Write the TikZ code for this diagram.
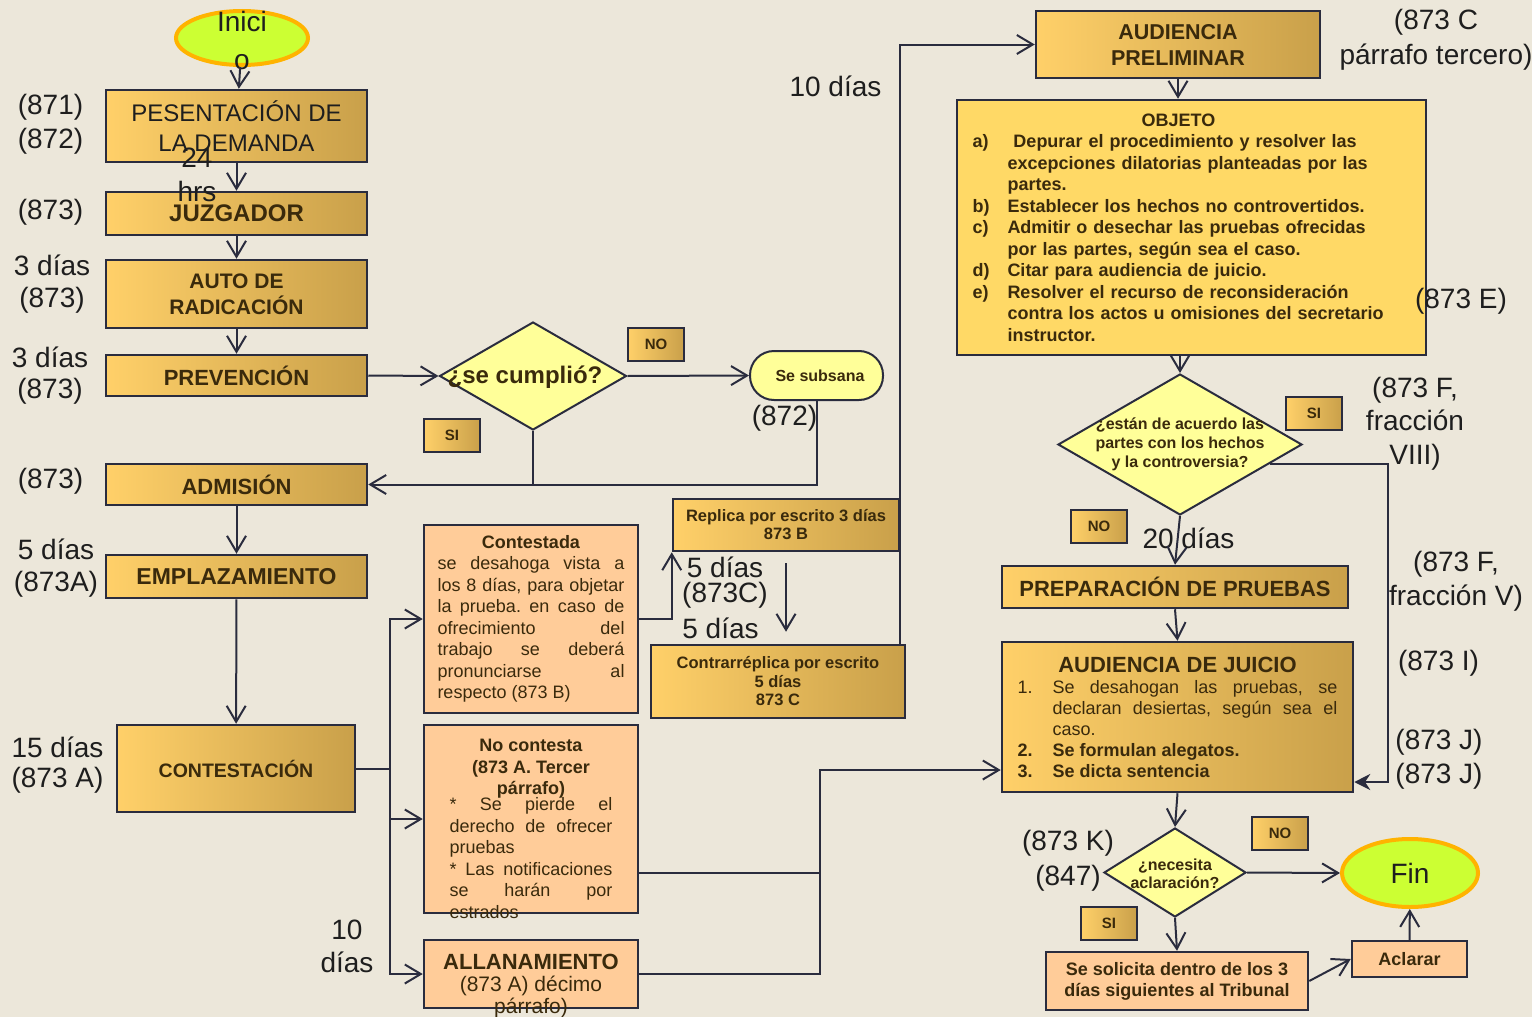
\documentclass[tikz,border=0pt]{standalone}
\usepackage{fontspec}
\setmainfont{Liberation Sans}
\usetikzlibrary{shapes.geometric,arrows.meta,positioning}
\definecolor{bg}{HTML}{ECE7DA}
\definecolor{ln}{HTML}{2A2C3E}
\definecolor{ink}{HTML}{1E1E1E}
\definecolor{brn}{HTML}{3A2A0C}
\definecolor{goldL}{HTML}{FFD069}
\definecolor{goldR}{HTML}{C9A04A}
\definecolor{peach}{HTML}{FFCC99}
\definecolor{pale}{HTML}{FFFF99}
\definecolor{objfill}{HTML}{FFD966}
\definecolor{limefill}{HTML}{CCFF33}
\definecolor{rimcol}{HTML}{FFB300}
\newcommand{\fs}[2]{\fontsize{#1}{#2}\selectfont}
\newcommand{\nosize}[1]{\makebox[0pt]{\raisebox{-.3em}[0pt][0pt]{#1}}}
\newcommand{\ovr}[3]{\raisebox{#1}[0pt][0pt]{\parbox[t]{#2}{#3}}}
\newcommand{\itm}[2]{\par\hangindent=35pt\hangafter=1\noindent\makebox[35pt][l]{#1}#2}
\begin{document}
\frenchspacing
\hyphenpenalty=10000
\exhyphenpenalty=10000
\begin{tikzpicture}
    [x=1pt, y=-1pt, line width=2pt, color=ln,
     >={Straight Barb[length=16pt,width=19pt]},
     gold/.style ={draw=ln, line width=2.5pt, left color=goldL, right color=goldR, text=brn, inner sep=0pt, align=center, font=\bfseries},
     peachbox/.style ={draw=ln, line width=2.5pt, fill=peach, text=brn, inner sep=0pt},
     dec/.style ={diamond, draw=ln, fill=pale, inner sep=0pt, text=brn},
     term/.style ={ellipse, draw=rimcol, line width=4pt, fill=limefill, text=ink, inner sep=0pt},
     tag/.style ={gold, line width=2pt, minimum width=56pt, minimum height=33pt, font=\bfseries\fs{15}{16}},
     lbl/.style ={text=ink, inner sep=0pt, align=center, font=\fs{28}{33}}]
    \useasboundingbox (0,0) rectangle (1532,1017);
    \fill[bg] (0,0) rectangle (1532,1017);
    \node[term, minimum width=132pt, minimum height=54pt, font=\fs{28}{38}] (inicio) at (242,38) {\nosize{\raisebox{-3pt}{\begin{tabular}{@{}c@{}}Inici\\o\end{tabular}}}};
    \node[gold, minimum width=261pt, minimum height=72pt, font=\mdseries\fs{24}{30}, text=ink] (pres) at (236.5,126) {PESENTACIÓN DE\\LA DEMANDA};
    \node[gold, minimum width=261pt, minimum height=43pt, font=\bfseries\fs{24}{26}] (juz) at (236.5,213.5) {JUZGADOR};
    \node[gold, minimum width=261pt, minimum height=68pt, font=\bfseries\fs{21}{26}] (auto) at (236.5,294) {AUTO DE\\RADICACIÓN};
    \node[gold, minimum width=261pt, minimum height=41pt, font=\bfseries\fs{22}{24}] (prev) at (236.5,375.5) {PREVENCIÓN};
    \node[gold, minimum width=261pt, minimum height=41pt, font=\bfseries\fs{22}{24}] (adm) at (236.5,484.5) {ADMISIÓN};
    \node[gold, minimum width=261pt, minimum height=43pt, font=\bfseries\fs{23}{25}] (empl) at (236.5,576.5) {EMPLAZAMIENTO};
    \node[gold, minimum width=238pt, minimum height=87pt, font=\bfseries\fs{19.5}{22}] (cont) at (236,768.5) {CONTESTACIÓN};
    \node[dec, minimum width=187pt, minimum height=108pt, font=\bfseries\fs{24}{26}] (dec1) at (533,376) {\nosize{\hspace*{-16pt}¿se cumplió?}};
    \node[draw=ln, fill=pale, rounded corners=24pt, minimum width=133pt, minimum height=49pt, text=brn, font=\bfseries\fs{16}{18}] (subsana) at (816.5,375.5) {\raisebox{-5pt}{\hspace*{7pt}Se subsana}};
    \node[peachbox, minimum width=214pt, minimum height=188pt, text width=187pt, align=justify, font=\fs{18}{21.5}] (contestada) at (531,619) {{\centering\bfseries Contestada\par}se desahoga vista a\linebreak los 8 días, para objetar\linebreak la prueba. en caso de\linebreak ofrecimiento del\linebreak trabajo se deberá\linebreak pronunciarse al\linebreak respecto (873 B)};
    \node[peachbox, minimum width=214pt, minimum height=188pt, font=\fs{18}{21.5}] (nocont) at (531,819) {\ovr{67.5pt}{163pt}{{\centering\bfseries No contesta\\(873 A. Tercer\\párrafo)\par}\vspace{-5.5pt}* Se pierde el\linebreak derecho de ofrecer\linebreak pruebas\par * Las notificaciones\linebreak se harán por\linebreak estrados}};
    \node[peachbox, minimum width=214pt, minimum height=68pt, font=\fs{21}{22}] (allan) at (531,974) {\ovr{5pt}{214pt}{\centering{\bfseries\fs{22}{22}ALLANAMIENTO\par}(873 A) décimo\\párrafo)}};
    \node[gold, minimum width=226pt, minimum height=52pt, font=\bfseries\fs{16.5}{18}] (replica) at (786,525) {Replica por escrito 3 días\\873 B};
    \node[gold, minimum width=254pt, minimum height=73pt, font=\bfseries\fs{16.5}{18.5}] (contra) at (778,681.5) {Contrarréplica por escrito\\5 días\\873 C};
    \node[gold, minimum width=284pt, minimum height=67pt, font=\bfseries\fs{21.5}{26}] (audprel) at (1178,44.5) {AUDIENCIA\\PRELIMINAR};
    \node[draw=ln, line width=2.5pt, fill=objfill, text=brn, inner sep=0pt, minimum width=469pt, minimum height=255pt, text width=438pt, align=left, font=\bfseries\fs{18}{21.5}] (objeto) at (1191.5,227.5) {\noindent\makebox[412pt]{OBJETO}\itm{a)}{ Depurar el procedimiento y resolver las\newline excepciones dilatorias planteadas por las\newline partes.}\itm{b)}{Establecer los hechos no controvertidos.}\itm{c)}{Admitir o desechar las pruebas ofrecidas\newline por las partes, según sea el caso.}\itm{d)}{Citar para audiencia de juicio.}\itm{e)}{Resolver el recurso de reconsideración\newline contra los actos u omisiones del secretario\newline instructor.}\par};
    \node[dec, minimum width=244pt, minimum height=141pt, font=\bfseries\fs{16}{19}] (dec2) at (1180,444.5) {\nosize{\begin{tabular}{@{}c@{}}¿están de acuerdo las\\partes con los hechos\\y la controversia?\end{tabular}}};
    \node[gold, minimum width=346pt, minimum height=42pt, font=\bfseries\fs{22}{24}] (prep) at (1175,587) {PREPARACIÓN DE PRUEBAS};
    \node[gold, minimum width=351pt, minimum height=150pt, text width=320pt, align=justify, font=\fs{18}{22.5}] (juicio) at (1177.5,717) {{\centering\bfseries\fs{22}{23}AUDIENCIA DE JUICIO\par}\itm{1.}{Se desahogan las pruebas, se declaran desiertas, según sea el caso.}\fs{18}{21}\itm{\textbf{2.}}{\textbf{Se formulan alegatos.}}\itm{\textbf{3.}}{\textbf{Se dicta sentencia}}\par};
    \node[dec, minimum width=142pt, minimum height=89pt, font=\bfseries\fs{16}{18}] (dec3) at (1175,872.5) {\nosize{\raisebox{-3pt}{\begin{tabular}{@{}c@{}}¿necesita\\aclaración?\end{tabular}}}};
    \node[term, minimum width=136pt, minimum height=68pt, font=\fs{28}{30}] (fin) at (1410,873) {Fin};
    \node[peachbox, minimum width=262pt, minimum height=58pt, align=center, font=\bfseries\fs{18}{21}] (solicita) at (1177,981) {Se solicita dentro de los 3\\días siguientes al Tribunal};
    \node[peachbox, minimum width=115pt, minimum height=36pt, font=\bfseries\fs{18}{20}] (aclarar) at (1409.5,959) {Aclarar};
    \node[tag] (no1) at (656,344) {NO};
    \node[tag] (si1) at (452,435) {SI};
    \node[tag] (si2) at (1314,413) {SI};
    \node[tag] (no2) at (1099,526) {NO};
    \node[tag] (no3) at (1280,833) {NO};
    \node[tag] (si3) at (1109,923) {SI};
    \node[lbl, font=\fs{28}{34}] (l871) at (50.5,124) {(871)\\(872)};
    \node[lbl] (l873a) at (50.5,212) {(873)};
    \node[lbl, font=\fs{28}{32}] (l873b) at (52,284) {3 días\\(873)};
    \node[lbl, font=\fs{28}{31}] (l873c) at (50,375.5) {3 días\\(873)};
    \node[lbl] (l873d) at (50.5,481) {(873)};
    \node[lbl, font=\fs{28}{32}] (l873e) at (56,568) {5 días\\(873A)};
    \node[lbl, font=\fs{28}{30}] (l873f) at (57.5,765) {15 días\\(873 A)};
    \node[lbl, font=\fs{28}{34}] (hrs) at (197,175) {24\\hrs};
    \node[lbl] (l872) at (784.5,418) {(872)};
    \node[lbl, font=\fs{28}{25}] (l873g) at (725,582.5) {5 días\\(873C)};
    \node[lbl] (cinco) at (720.5,628) {5 días};
    \node[lbl] (diez) at (835.5,86) {10 días};
    \node[lbl] (diez2) at (347,946.5) {10\\días};
    \node[lbl, font=\fs{28}{35}] (l873h) at (1436,39.5) {(873 C\\párrafo tercero)};
    \node[lbl] (l873i) at (1461,301) {(873 E)};
    \node[lbl, font=\fs{28}{33.5}] (l873j) at (1415,423.5) {(873 F,\\fracción\\VIII)};
    \node[lbl, font=\fs{28}{34}] (l873k) at (1456,581) {(873 F,\\fracción V)};
    \node[lbl] (l873l) at (1438.5,663) {(873 I)};
    \node[lbl, font=\fs{28}{34}] (l873m) at (1439,759) {(873 J)\\(873 J)};
    \node[lbl, font=\fs{28}{35}] (l873n) at (1068,860.5) {(873 K)\\(847)};
    \node[lbl] (veinte) at (1188.5,538) {20 días};
    \draw[->] (inicio) -- (pres);
    \draw[->] (pres) -- (juz);
    \draw[->] (juz) -- (auto);
    \draw[->] (auto) -- (prev);
    \draw[->] (prev.east) -- (dec1.west);
    \draw[->] (dec1.east) -- (subsana.west);
    \draw (dec1.south) -- (dec1.south |- adm.east);
    \draw[->] (subsana.south) |- (adm.east);
    \draw[->] (adm) -- (empl);
    \draw[->] (empl) -- (cont);
    \coordinate (split) at (390,768.5);
    \draw (cont.east) -- (split);
    \draw[->] (split) |- (contestada.west);
    \draw[->] (split) |- (nocont.west);
    \draw[->] (split) |- (allan.west);
    \draw[->] (contestada.east) -| (replica.south west);
    \draw[->, shorten <=11pt, shorten >=12pt] (replica.south) -- (replica.south |- contra.north);
    \coordinate (up) at (900,645);
    \draw[->] (up) |- (audprel.west);
    \draw[->] (audprel) -- (audprel.south |- objeto.north);
    \draw[->] (objeto.south -| dec2.north) -- (dec2.north);
    \draw[->] (dec2.south) -- (prep.north);
    \draw[->] (prep.south) -- (juicio.north);
    \coordinate (bend) at (1388,782);
    \draw[-{Stealth[length=16pt,width=16pt]}] (dec2.-12) -| (bend) -- (bend -| juicio.east);
    \coordinate (merge) at (820,770);
    \draw[->] (allan.east) -| (merge) -- (merge -| juicio.west);
    \coordinate (nc) at (820,873);
    \draw (nc -| nocont.east) -- (nc);
    \draw[->] (juicio.south) -- (dec3.north);
    \draw[->] (dec3.east) -- (fin.west);
    \draw[->] (dec3.south) -- (solicita.north);
    \draw[->] (solicita.east) -- (aclarar.west);
    \draw[->] (aclarar) -- (fin);
\end{tikzpicture}
\end{document}
